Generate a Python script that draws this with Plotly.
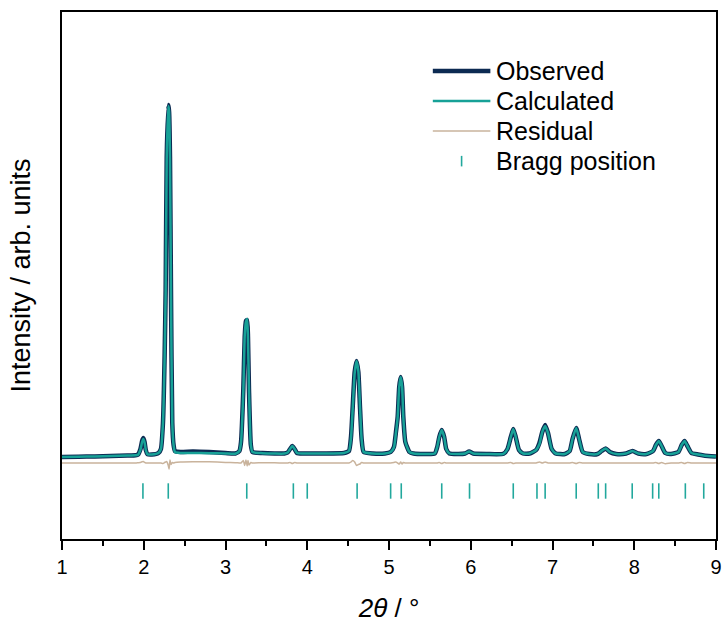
import plotly.graph_objects as go

# ---------------- data ----------------
two_theta = [1.00, 1.20, 1.40, 1.60, 1.80, 1.90, 1.93, 1.96, 1.98, 1.995, 2.01, 2.025, 2.045,
             2.10, 2.18, 2.21, 2.235, 2.255, 2.268, 2.281, 2.300, 2.310, 2.321, 2.333, 2.349,
             2.365, 2.382, 2.45, 2.60, 2.80, 3.00, 3.12, 3.17, 3.19, 3.218, 3.235, 3.25, 3.265,
             3.275, 3.287, 3.31, 3.33, 3.45, 3.60, 3.72, 3.76, 3.79, 3.817, 3.845, 3.875, 3.95,
             4.20, 4.45, 4.51, 4.535, 4.556, 4.58, 4.603, 4.625, 4.645, 4.665, 4.69, 4.80, 4.95,
             5.02, 5.06, 5.085, 5.106, 5.125, 5.143, 5.16, 5.175, 5.20, 5.25, 5.30, 5.45, 5.56,
             5.59, 5.615, 5.645, 5.675, 5.70, 5.74, 5.85, 5.93, 5.98, 6.03, 6.20, 6.40, 6.45,
             6.49, 6.52, 6.55, 6.59, 6.64, 6.72, 6.80, 6.84, 6.875, 6.91, 6.945, 6.99, 7.04,
             7.15, 7.21, 7.245, 7.29, 7.325, 7.37, 7.45, 7.55, 7.60, 7.65, 7.70, 7.78, 7.90,
             7.98, 8.05, 8.15, 8.23, 8.265, 8.30, 8.335, 8.38, 8.45, 8.54, 8.58, 8.615, 8.65,
             8.70, 8.78, 8.85, 9.00]

observed = [0, 0.3, 0.6, 1.0, 1.5, 1.8, 2.5, 8, 16, 19, 15, 7, 2.8,
            2.5, 4, 8, 34, 100, 167, 300, 352, 345, 300, 167, 34,
            12, 6, 5, 5.5, 5, 4, 3.5, 6, 15, 68, 120, 136, 137,
            120, 68, 12, 5, 4, 3.5, 3.5, 4.5, 8, 11, 8, 4, 3.5,
            3.5, 4, 6, 20, 50, 85, 96, 85, 50, 18, 5, 3.5, 3.5,
            5, 10, 25, 40, 70, 80, 70, 40, 15, 5, 3.5, 3, 3.5,
            10, 20, 27, 20, 8, 3.5, 3, 3.5, 5.5, 3.5, 3, 3.2, 8,
            20, 28, 20, 7, 3.5, 3.5, 7, 14, 25, 32, 24, 8, 3.5,
            3, 6, 18, 29, 18, 5, 3, 3, 6, 8.5, 5, 3, 3.5,
            6, 3.5, 3, 6, 12, 16, 11, 4, 3, 5, 12, 16, 11,
            4, 2.5, 1.5, 0.5]

calculated = [0, 0.3, 0.6, 1.0, 1.5, 1.8, 2.3, 7.5, 15, 18, 14.5, 7, 2.8,
              2.5, 4, 8, 34, 98, 165, 298, 351, 346, 298, 168, 34,
              12, 5, 4, 4, 3.8, 3.5, 3.3, 6, 15, 66, 121, 135, 138,
              118, 69, 12, 5, 3.8, 3.4, 3.4, 4.5, 8, 11, 8, 4, 3.5,
              3.5, 4, 6, 19, 48, 84, 96, 86, 51, 18, 5, 3.5, 3.5,
              5, 9.5, 24, 40, 70, 80, 71, 40, 15, 5, 3.5, 3, 3.5,
              10, 20, 27, 20, 8, 3.5, 3, 3.5, 5.5, 3.5, 3, 3.2, 8,
              20, 28, 20, 7, 3.5, 3.5, 7, 13, 25, 31, 24, 8, 3.5,
              3, 6, 18, 29, 18, 5, 3, 3, 6, 8.5, 5, 3, 3.5,
              6, 3.5, 3, 6, 12, 16, 11, 4, 3, 5, 12, 16, 11,
              4, 2.5, 1.5, 0.5]

residual = [0, 0, 0, 0, 0, 0, 0.3, 0.6, 1.2, 1.5, 0.6, 0, 0,
            0, 0, 0, -0.5, 0.5, 1, 1.5, -2.5, -6, 3, -1.5, 0.5,
            0, 0.5, 1, 1.3, 1.2, 0.6, 0.3, 0, 0, 2.5, -2.5, 3, -3,
            2.5, -2, 0.5, 0, 0.3, 0.2, 0, 0, 0.5, -0.5, 0.5, 0, 0,
            0, 0, 0, 1, 2.5, 1, -2.5, -1.5, -1, 0.5, 0, 0, 0,
            0, 0.5, 1, 0, -1, 1, -1, 0.5, 0, 0, 0, 0, 0,
            0, 0.5, -0.5, 0.5, 0, 0, 0, 0, 0, 0, 0, 0, 0,
            0.5, -0.5, 0, 0, 0, 0, 0, 1, 0, 1, 0, 0, 0,
            0, 0, 0.5, -0.5, 0.5, 0, 0, 0, 0, 0, 0, 0, 0,
            0, 0, 0, 0, 0.5, -0.5, 0.5, -0.8, 0, 0, 0.5, -0.5, 0.5,
            0, 0, 0, 0]

bragg_positions = [1.99, 2.30, 3.26, 3.83, 4.00, 4.61, 5.02, 5.15, 5.645, 5.985, 6.52,
                   6.81, 6.91, 7.29, 7.56, 7.65, 7.975, 8.225, 8.30, 8.625, 8.85]

residual_offset = -6
bragg_level = -34

x_tick_values = [1, 2, 3, 4, 5, 6, 7, 8, 9]

# ---------------- style ----------------
C_OBS = "#0c2a52"
C_CALC = "#17a197"
C_RES = "#c9b39c"
C_BRAGG = "#22a89d"
FONT = "Liberation Sans, Arial, sans-serif"

fig = go.Figure()

fig.add_trace(go.Scatter(x=two_theta, y=observed, mode="lines", name="Observed",
                         line=dict(color=C_OBS, width=4.5, shape="spline", smoothing=0.5)))
fig.add_trace(go.Scatter(x=two_theta, y=calculated, mode="lines", name="Calculated",
                         line=dict(color=C_CALC, width=2.5, shape="spline", smoothing=0.5)))
fig.add_trace(go.Scatter(x=two_theta, y=[r + residual_offset for r in residual], mode="lines",
                         name="Residual",
                         line=dict(color=C_RES, width=1.5, shape="spline", smoothing=0.5)))
fig.add_trace(go.Scatter(x=bragg_positions, y=[bragg_level] * len(bragg_positions),
                         mode="markers", name="Bragg position",
                         marker=dict(symbol="line-ns", size=11,
                                     line=dict(color=C_BRAGG, width=1.6))))

# ---------------- manual legend (paper coordinates) ----------------
legend_rows = [("Observed", 0.888, C_OBS, 4.5), ("Calculated", 0.831, C_CALC, 2.5),
               ("Residual", 0.774, C_RES, 1.5)]
lx0, lx1, tx = 0.567, 0.655, 0.661
for label, yy, col, w in legend_rows:
    fig.add_shape(type="line", xref="paper", yref="paper", x0=lx0, x1=lx1, y0=yy, y1=yy,
                  line=dict(color=col, width=w))
    fig.add_annotation(xref="paper", yref="paper", x=tx, y=yy, text=label, showarrow=False,
                       xanchor="left", yanchor="middle",
                       font=dict(family=FONT, size=25, color="black"))
fig.add_shape(type="line", xref="paper", yref="paper", x0=0.611, x1=0.611, y0=0.707, y1=0.727,
              line=dict(color=C_BRAGG, width=1.6))
fig.add_annotation(xref="paper", yref="paper", x=tx, y=0.717, text="Bragg position",
                   showarrow=False, xanchor="left", yanchor="middle",
                   font=dict(family=FONT, size=25, color="black"))

fig.update_layout(
    width=723, height=624,
    margin=dict(l=62, r=7, t=12, b=85),
    paper_bgcolor="white", plot_bgcolor="white",
    showlegend=False,
    font=dict(family=FONT, color="black"),
)
fig.update_xaxes(
    automargin=False,
    range=[1, 9], tickvals=x_tick_values, ticks="outside", ticklen=9, tickwidth=2,
    tickcolor="black",
    minor=dict(dtick=0.5, ticks="outside", ticklen=5, tickwidth=2, tickcolor="black"),
    showline=True, linewidth=2, linecolor="black", mirror=True,
    showgrid=False, zeroline=False,
    tickfont=dict(family=FONT, size=20, color="black"),
    title=dict(text="<i>2θ</i> / °", font=dict(family=FONT, size=26, color="black"),
               standoff=22),
)
fig.update_yaxes(
    automargin=False,
    range=[-82, 445], showticklabels=False, ticks="",
    showline=True, linewidth=2, linecolor="black", mirror=True,
    showgrid=False, zeroline=False,
    title=dict(text="Intensity / arb. units", font=dict(family=FONT, size=27, color="black"),
               standoff=22),
)

fig.write_html("out.html")
